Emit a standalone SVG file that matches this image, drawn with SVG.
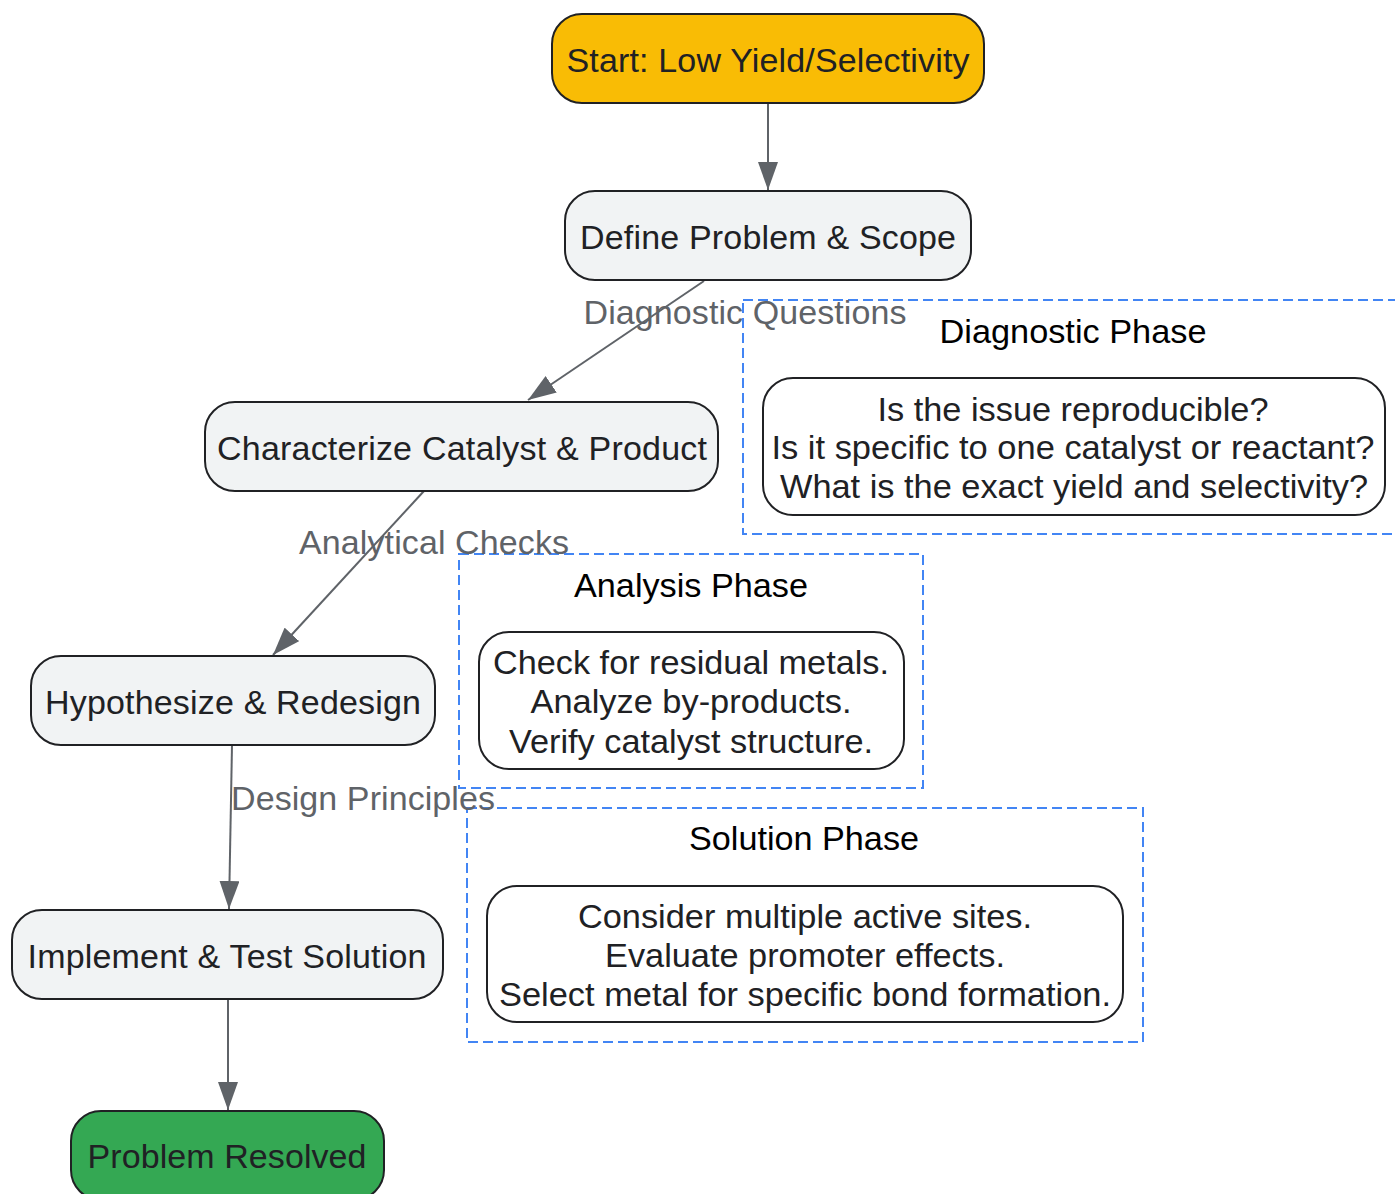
<svg xmlns="http://www.w3.org/2000/svg" width="1395" height="1194" viewBox="0 0 1395 1194">
<defs>
<style>
.node rect{stroke:#202124;stroke-width:2}
.proc{fill:#F1F3F4}
.start{fill:#F9BC05}
.end{fill:#34A853}
.note{fill:#FFFFFF}
.nt{font-family:"Liberation Sans",Arial,sans-serif;font-size:34px;fill:#202124;text-anchor:middle}
.ct{font-family:"Liberation Sans Narrow","Liberation Sans",Arial,sans-serif;font-size:33px;fill:#202124;text-anchor:middle}
.tt{font-family:"Liberation Sans Narrow","Liberation Sans",Arial,sans-serif;font-size:33px;fill:#000000;text-anchor:middle}
.cluster{fill:none;stroke:#4285F4;stroke-width:2;stroke-dasharray:10 5}
.edge{fill:none;stroke:#5F6368;stroke-width:2}
.lbl{font-family:"Liberation Sans",Arial,sans-serif;font-size:34px;fill:#5F6368;text-anchor:middle}
</style>
<marker id="arrow" viewBox="0 0 28 20" refX="28" refY="10" markerWidth="28" markerHeight="20" markerUnits="userSpaceOnUse" orient="auto">
<path d="M0,0 L28,10 L0,20 z" fill="#5F6368"/>
</marker>
</defs>
<rect width="1395" height="1194" fill="#FFFFFF"/>

<g id="cluster-diagnostic">
<rect class="cluster" x="743" y="300" width="665" height="234"/>
<text class="tt" x="1073" y="343" textLength="267" lengthAdjust="spacingAndGlyphs">Diagnostic Phase</text>
</g>
<g id="cluster-analysis">
<rect class="cluster" x="459" y="554" width="464" height="234"/>
<text class="tt" x="691" y="597" textLength="234" lengthAdjust="spacingAndGlyphs">Analysis Phase</text>
</g>
<g id="cluster-solution">
<rect class="cluster" x="467" y="808" width="676" height="234"/>
<text class="tt" x="804" y="850" textLength="230" lengthAdjust="spacingAndGlyphs">Solution Phase</text>
</g>

<g id="connectors">
<line class="edge" x1="768" y1="103" x2="768" y2="190" marker-end="url(#arrow)"/>
<line class="edge" x1="704" y1="281" x2="528" y2="400" marker-end="url(#arrow)"/>
<line class="edge" x1="424" y1="491" x2="273" y2="655" marker-end="url(#arrow)"/>
<line class="edge" x1="232" y1="745" x2="229" y2="909" marker-end="url(#arrow)"/>
<line class="edge" x1="228" y1="999" x2="228" y2="1110" marker-end="url(#arrow)"/>
<text class="lbl" x="745" y="324" textLength="323">Diagnostic Questions</text>
<text class="lbl" x="434" y="554" textLength="270">Analytical Checks</text>
<text class="lbl" x="363" y="810" textLength="264">Design Principles</text>
</g>

<g id="start" class="node">
<rect class="start" x="552" y="14" width="432" height="89" rx="30" ry="30"/>
<text class="nt" x="768" y="72" textLength="403">Start: Low Yield/Selectivity</text>
</g>
<g id="define" class="node">
<rect class="proc" x="565" y="191" width="406" height="89" rx="30" ry="30"/>
<text class="nt" x="768" y="249" textLength="376">Define Problem &amp; Scope</text>
</g>
<g id="characterize" class="node">
<rect class="proc" x="205" y="402" width="513" height="89" rx="30" ry="30"/>
<text class="nt" x="462" y="460" textLength="490">Characterize Catalyst &amp; Product</text>
</g>
<g id="hypothesize" class="node">
<rect class="proc" x="31" y="656" width="404" height="89" rx="30" ry="30"/>
<text class="nt" x="233" y="714" textLength="376">Hypothesize &amp; Redesign</text>
</g>
<g id="implement" class="node">
<rect class="proc" x="12" y="910" width="431" height="89" rx="30" ry="30"/>
<text class="nt" x="227" y="968" textLength="399">Implement &amp; Test Solution</text>
</g>
<g id="resolved" class="node">
<rect class="end" x="71" y="1111" width="313" height="89" rx="30" ry="30"/>
<text class="nt" x="227" y="1168" textLength="279">Problem Resolved</text>
</g>

<g id="diagnostic-questions" class="node">
<rect class="note" x="763" y="378" width="622" height="137" rx="30" ry="30"/>
<text class="ct" x="1073" y="421" textLength="391" lengthAdjust="spacingAndGlyphs">Is the issue reproducible?</text>
<text class="ct" x="1073" y="459" textLength="603" lengthAdjust="spacingAndGlyphs">Is it specific to one catalyst or reactant?</text>
<text class="ct" x="1074" y="498" textLength="588" lengthAdjust="spacingAndGlyphs">What is the exact yield and selectivity?</text>
</g>
<g id="analysis-checks" class="node">
<rect class="note" x="479" y="632" width="425" height="137" rx="30" ry="30"/>
<text class="ct" x="691" y="674" textLength="396" lengthAdjust="spacingAndGlyphs">Check for residual metals.</text>
<text class="ct" x="691" y="713" textLength="321" lengthAdjust="spacingAndGlyphs">Analyze by-products.</text>
<text class="ct" x="691" y="753" textLength="364" lengthAdjust="spacingAndGlyphs">Verify catalyst structure.</text>
</g>
<g id="solution-principles" class="node">
<rect class="note" x="487" y="886" width="636" height="136" rx="30" ry="30"/>
<text class="ct" x="805" y="928" textLength="454" lengthAdjust="spacingAndGlyphs">Consider multiple active sites.</text>
<text class="ct" x="805" y="967" textLength="400" lengthAdjust="spacingAndGlyphs">Evaluate promoter effects.</text>
<text class="ct" x="805" y="1006" textLength="612" lengthAdjust="spacingAndGlyphs">Select metal for specific bond formation.</text>
</g>
</svg>
